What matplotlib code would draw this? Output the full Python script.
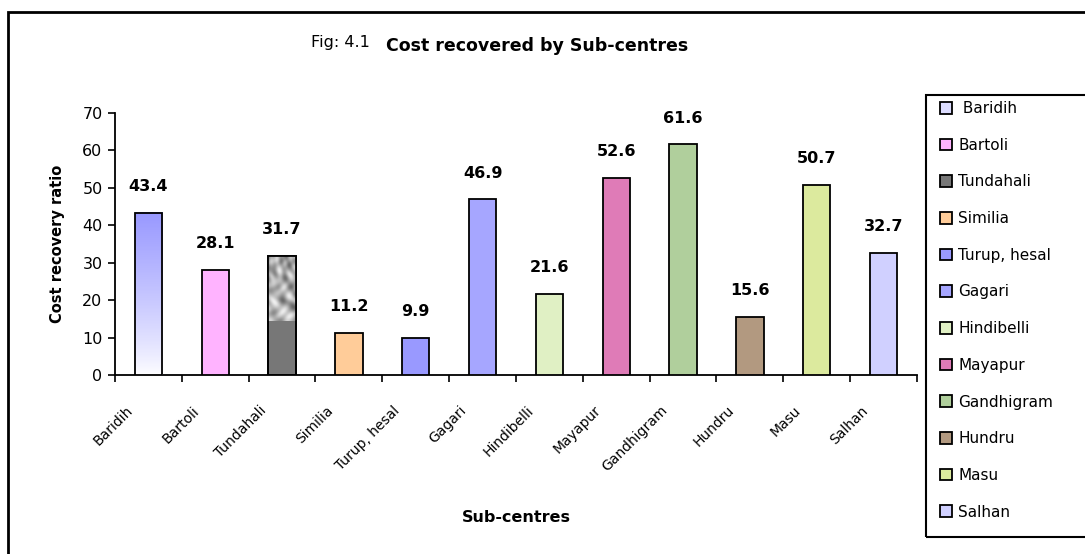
import matplotlib
matplotlib.use('Agg')
import matplotlib.pyplot as plt
import matplotlib.transforms as mtransforms
from matplotlib.patches import Rectangle, Patch
from matplotlib.colors import LinearSegmentedColormap
import numpy as np

plt.rcParams['font.family'] = ['DejaVu Sans']

# data
centres = ['Baridih', 'Bartoli', 'Tundahali', 'Similia', 'Turup, hesal', 'Gagari',
           'Hindibelli', 'Mayapur', 'Gandhigram', 'Hundru', 'Masu', 'Salhan']
ratios = [43.4, 28.1, 31.7, 11.2, 9.9, 46.9, 21.6, 52.6, 61.6, 15.6, 50.7, 32.7]
legend_names = [' Baridih'] + centres[1:]
y_ticks = [0, 10, 20, 30, 40, 50, 60, 70]

colors = ['#9999FF', '#FFB3FF', '#777777', '#FFCC99', '#9999FF', '#A6A6FF',
          '#E0F0C4', '#DF7BB7', '#B0CF9C', '#B29980', '#DCEA9E', '#D0D0FF']
legend_colors = ['#DCDCFF'] + colors[1:]

W, H = 1085, 554
fig = plt.figure(figsize=(W / 100, H / 100), dpi=100)
ax = fig.add_axes([115 / W, 1 - 375 / H, 802 / W, 262 / H])

x = np.arange(len(centres))
bw = 0.41
bars = ax.bar(x, ratios, width=bw, color=colors, edgecolor='black', linewidth=1.3, zorder=3)

# gradient fill for Baridih
bars[0].set_facecolor('none')
bars[0].set_zorder(5)
grad = np.linspace(0, 1, 256).reshape(-1, 1) ** 0.8
cmap = LinearSegmentedColormap.from_list('g', ['#FFFFFF', '#9999FF'])
ax.imshow(grad, extent=[x[0] - bw / 2, x[0] + bw / 2, 0, ratios[0]], origin='lower',
          cmap=cmap, aspect='auto', zorder=4)

# mottled texture on upper part of Tundahali
xx, yy = np.meshgrid(np.linspace(0, 4, 14), np.linspace(0, 9, 30))
tex = np.sin(xx * 2.3 + np.cos(yy * 1.7)) * np.cos(yy * 2.1 + np.sin(xx * 1.3)) + 0.5 * np.sin(xx * yy * 0.7)
ax.imshow(tex, extent=[x[2] - bw / 2, x[2] + bw / 2, 14.5, ratios[2]], origin='lower',
          cmap='gray', vmin=-3.2, vmax=1.6, aspect='auto', interpolation='bicubic', zorder=4)
ax.add_patch(Rectangle((x[2] - bw / 2, 0), bw, ratios[2], fill=False, edgecolor='black',
                       linewidth=1.3, zorder=5))

for xi, v in zip(x, ratios):
    ax.annotate(f'{v}', (xi, v), xytext=(0, 19), textcoords='offset points',
                ha='center', va='center', fontsize=11.5, fontweight='bold')

ax.set_xlim(-0.5, len(centres) - 0.5)
ax.set_ylim(0, 70)
ax.set_yticks(y_ticks)
ax.tick_params(axis='y', labelsize=11.5, length=5, width=1.2, direction='out', pad=4)
ax.set_xticks(x)
ax.set_xticks(np.arange(len(centres) + 1) - 0.5, minor=True)
ax.tick_params(axis='x', which='major', length=0, pad=24)
ax.tick_params(axis='x', which='minor', length=5, width=1.2, direction='out')
ax.set_xticklabels(centres, rotation=45, ha='right', va='center', rotation_mode='anchor',
                   fontsize=10, family=['Liberation Sans Narrow', 'DejaVu Sans'])
off = mtransforms.ScaledTranslation(-0.18, 0, fig.dpi_scale_trans)
for lab in ax.get_xticklabels():
    lab.set_transform(lab.get_transform() + off)

for s in ['top', 'right']:
    ax.spines[s].set_visible(False)
for s in ['left', 'bottom']:
    ax.spines[s].set_linewidth(1.3)

ax.set_ylabel('Cost recovery ratio', fontsize=10.5, fontweight='bold', labelpad=12)
fig.text(516 / W, 1 - 517 / H, 'Sub-centres', ha='center', va='center', fontsize=11.5, fontweight='bold')

fig.text(370 / W, 1 - 42 / H, 'Fig: 4.1', ha='right', va='center', fontsize=11.5)
fig.text(386 / W, 1 - 46 / H, 'Cost recovered by Sub-centres', ha='left', va='center',
         fontsize=12.5, fontweight='bold')

# outer frame and legend box
fig.patches.append(Rectangle((8 / W, -0.05), 1.2, 1.05 - 12 / H, transform=fig.transFigure,
                             fill=False, edgecolor='black', linewidth=2))
fig.patches.append(Rectangle((926 / W, 1 - 537 / H), 0.3, (537 - 95) / H, transform=fig.transFigure,
                             fill=False, edgecolor='black', linewidth=1.5))

handles = [Patch(facecolor=c, edgecolor='black', linewidth=1.3) for c in legend_colors]
fig.legend(handles, legend_names, loc='upper left', bbox_to_anchor=(940 / W, 1 - 101 / H),
           frameon=False, fontsize=11, handlelength=0.8, handleheight=0.8, handletextpad=0.4,
           labelspacing=1.42, borderpad=0, borderaxespad=0)

fig.savefig('out.png', dpi=100)
